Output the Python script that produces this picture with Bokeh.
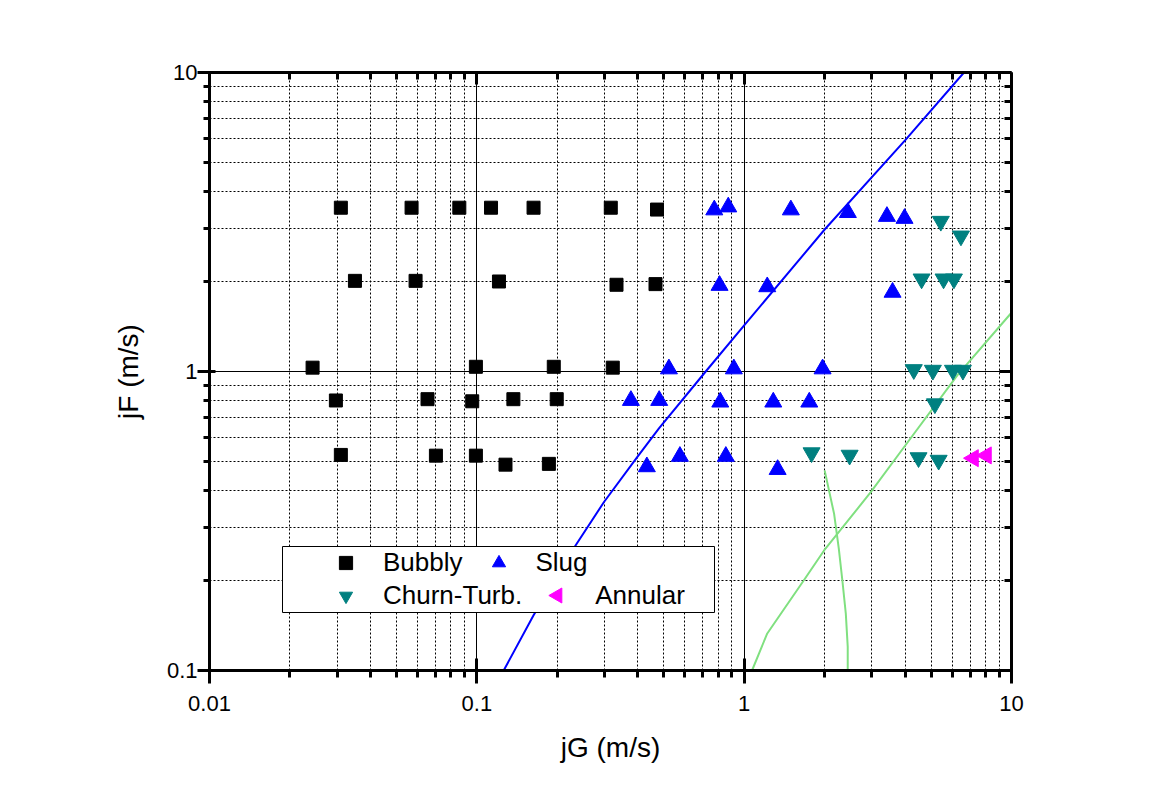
import math
from bokeh.plotting import figure
from bokeh.models import (LogAxis, FixedTicker, CustomJSTickFormatter, Legend,
                          LegendItem, BoxAnnotation, Range1d, LinearScale)
from bokeh.embed import file_html
from bokeh.resources import INLINE

# ---------------- data ----------------
bubbly_jg = [0.031, 0.057, 0.086, 0.113, 0.163, 0.317, 0.472,
             0.035, 0.059, 0.121, 0.333, 0.466,
             0.0243, 0.0992, 0.194, 0.3225,
             0.0297, 0.0654, 0.0961, 0.137, 0.199,
             0.031, 0.0703, 0.0992, 0.128, 0.186]
bubbly_jf = [3.53, 3.53, 3.53, 3.53, 3.53, 3.53, 3.48,
             2.01, 2.01, 2.0, 1.95, 1.96,
             1.03, 1.037, 1.037, 1.03,
             0.80, 0.808, 0.795, 0.808, 0.808,
             0.526, 0.523, 0.523, 0.488, 0.491]

slug_jg = [0.773, 0.872, 1.495, 2.443, 3.42, 3.98,
           0.809, 1.22, 3.59,
           0.523, 0.915, 1.965,
           0.377, 0.481, 0.814, 1.285, 1.752,
           0.4325, 0.575, 0.854, 1.334]
slug_jf = [3.47, 3.55, 3.47, 3.40, 3.30, 3.25,
           1.94, 1.92, 1.84,
           1.02, 1.02, 1.02,
           0.80, 0.80, 0.79, 0.79, 0.79,
           0.48, 0.52, 0.52, 0.47]

churn_jg = [5.44, 6.47, 4.61, 5.57, 6.09, 4.31, 5.08, 6.04, 6.58, 5.17,
            1.787, 2.48, 4.49, 5.34]
churn_jf = [3.18, 2.84, 2.04, 2.04, 2.04, 1.015, 1.01, 1.01, 1.01, 0.78,
            0.535, 0.525, 0.515, 0.505]

annular_jg = [7.2, 8.05]
annular_jf = [0.513, 0.524]

# bubbly/slug transition boundary (blue)
bs_jg = [0.126, 0.163, 0.234, 0.299, 0.398, 0.48, 0.718, 1.0, 2.0, 4.02, 6.64]
bs_jf = [0.1, 0.153, 0.262, 0.366, 0.517, 0.645, 1.0, 1.426, 2.985, 5.96, 10.0]

# green boundaries
g1_jg = [1.07, 1.15, 1.22, 1.67, 1.99, 2.97, 3.96, 6.27, 9.92, 10.0]
g1_jf = [0.1, 0.117, 0.133, 0.2, 0.252, 0.394, 0.558, 0.97, 1.56, 1.57]
g2_jg = [2.0, 2.17, 2.26, 2.33, 2.40, 2.44, 2.44]
g2_jf = [0.467, 0.334, 0.255, 0.2, 0.155, 0.12, 0.1]

x_major = [0.01, 0.1, 1, 10]
y_major = [0.1, 1, 10]
series_names = ["Bubbly", "Slug", "Churn-Turb.", "Annular"]

FONT = "Liberation Sans"

x_minor = [k * 10.0 ** e for e in (-2, -1, 0) for k in range(2, 10)]
y_minor = [k * 10.0 ** e for e in (-1, 0) for k in range(2, 10)]

FRAME_W, FRAME_H = 802, 598
p = figure(width=209 + FRAME_W + 130, height=72 + FRAME_H + 112,
           x_axis_type="log", y_axis_type="log",
           x_range=(0.01, 10), y_range=(0.1, 10),
           output_backend="svg", toolbar_location=None,
           min_border_left=209, min_border_right=130,
           min_border_top=72, min_border_bottom=112)
p.outline_line_color = None
p.background_fill_color = "white"
p.border_fill_color = "white"

# pixel-space range used only to place the legend key of the left triangle
p.extra_x_ranges = {"px": Range1d(0, FRAME_W)}
p.extra_y_ranges = {"px": Range1d(0, FRAME_H)}
p.extra_x_scales = {"px": LinearScale()}
p.extra_y_scales = {"px": LinearScale()}

fmt = CustomJSTickFormatter(code="return tick.toString();")
blank = CustomJSTickFormatter(code="return '';")

def style_axis(ax, ticks, minor, labels=True):
    ax.ticker = FixedTicker(ticks=ticks, minor_ticks=minor)
    ax.formatter = fmt if labels else blank
    ax.axis_line_width = 3
    ax.axis_line_color = "black"
    ax.major_tick_line_width = 3
    ax.minor_tick_line_width = 3
    ax.major_tick_line_color = "black"
    ax.minor_tick_line_color = "black"
    ax.major_label_text_font = FONT
    ax.major_label_text_font_size = "22px"
    ax.major_label_text_color = "black"
    ax.axis_label_text_font = FONT
    ax.axis_label_text_font_size = "28px"
    ax.axis_label_text_font_style = "normal"
    ax.axis_label_text_color = "black"

xa = p.xaxis[0]
style_axis(xa, x_major, x_minor)
xa.axis_label = "jG (m/s)"
xa.major_tick_out = 13
xa.major_tick_in = 12
xa.minor_tick_out = 7
xa.minor_tick_in = 0
xa.major_label_standoff = 12
xa.axis_label_standoff = 18

ya = p.yaxis[0]
style_axis(ya, y_major, y_minor)
ya.axis_label = "jF (m/s)"
ya.major_tick_out = 12
ya.major_tick_in = 6
ya.minor_tick_out = 6
ya.minor_tick_in = 0
ya.major_label_standoff = 0
ya.axis_label_standoff = 20

top = LogAxis()
style_axis(top, x_major, x_minor, labels=False)
top.major_tick_out = 0
top.major_tick_in = 12
top.minor_tick_out = 0
top.minor_tick_in = 7
p.add_layout(top, "above")

right = LogAxis()
style_axis(right, y_major, y_minor, labels=False)
right.major_tick_out = 0
right.major_tick_in = 12
right.minor_tick_out = 0
right.minor_tick_in = 7
p.add_layout(right, "right")

for g, tk, mn in ((p.xgrid[0], x_major, x_minor), (p.ygrid[0], y_major, y_minor)):
    g.ticker = FixedTicker(ticks=tk, minor_ticks=mn)
    g.grid_line_color = "black"
    g.grid_line_width = 1
    g.grid_line_alpha = 1
    g.minor_grid_line_color = "black"
    g.minor_grid_line_width = 1
    g.minor_grid_line_dash = "2 2"

# boundaries
p.line(bs_jg, bs_jf, line_color="#0000FF", line_width=2)
p.line(g1_jg, g1_jf, line_color="#80E080", line_width=2)
p.line(g2_jg, g2_jf, line_color="#80E080", line_width=2)

# data
rb = p.scatter(bubbly_jg, bubbly_jf, marker="square", size=13,
               fill_color="black", line_color="black")
rs = p.scatter(slug_jg, slug_jf, marker="triangle", size=17,
               fill_color="#0000FF", line_color="#0000FF")
rc = p.scatter(churn_jg, churn_jf, marker="inverted_triangle", size=17,
               fill_color="#008080", line_color="#008080")
ra = p.scatter(annular_jg, annular_jf, marker="triangle", size=17,
               angle=math.pi / 2,
               fill_color="#FF00FF", line_color="#FF00FF")
# invisible stand-in so the legend slot stays empty (key drawn below)
ra_key = p.scatter(annular_jg, annular_jf, marker="triangle", size=17, alpha=0)

# legend box
box = BoxAnnotation(left=73, right=505, bottom=58, top=124,
                    left_units="screen", right_units="screen",
                    top_units="screen", bottom_units="screen",
                    fill_color="white", fill_alpha=1,
                    line_color="black", line_width=1, line_alpha=1)
p.add_layout(box)

def make_legend(items, loc):
    lg = Legend(items=items, orientation="horizontal", location=loc,
                padding=0, spacing=19, margin=0,
                glyph_width=33, glyph_height=33, label_height=33,
                label_standoff=21,
                border_line_color=None, background_fill_alpha=0,
                label_text_font=FONT, label_text_font_size="26px",
                label_text_color="black")
    return lg

legA = make_legend([LegendItem(label=series_names[0], renderers=[rb]),
                    LegendItem(label=series_names[1], renderers=[rs])], (120, 91))
legB = make_legend([LegendItem(label=series_names[2], renderers=[rc]),
                    LegendItem(label=series_names[3], renderers=[ra_key])], (120, 58))
p.add_layout(legA)
p.add_layout(legB)

# left-pointing legend key for "Annular" (legend keys ignore marker angle)
p.scatter([348], [75], x_range_name="px", y_range_name="px",
          marker="triangle", size=15, angle=math.pi / 2,
          fill_color="#FF00FF", line_color="#FF00FF", level="overlay")

open("out.html", "w").write(file_html(p, INLINE))
